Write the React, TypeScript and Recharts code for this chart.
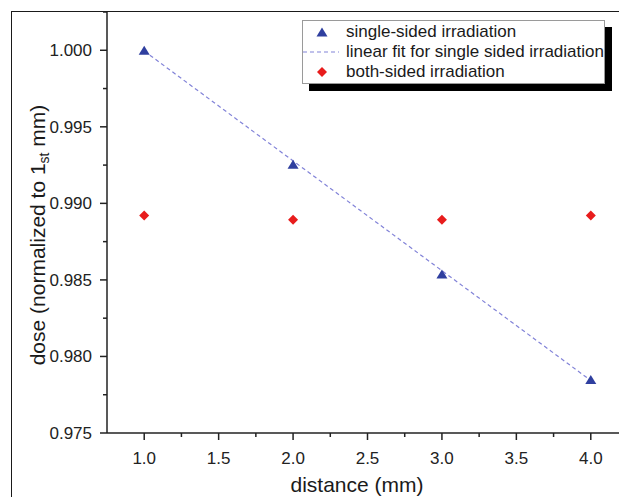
import { Label, Legend, Scatter, ScatterChart, XAxis, YAxis } from "recharts";

// distance in mm, dose normalized to the first mm
const distances = [1, 2, 3, 4];
const singleSided = [1.0, 0.99256, 0.98538, 0.97849];
const bothSided = [0.9892, 0.98893, 0.98893, 0.9892];

// end points of the linear fit for the single-sided run
const fitDistances = [1, 4];
const fitDose = [0.99995, 0.97843];

const xMajorTicks = [1, 1.5, 2, 2.5, 3, 3.5, 4];
const xMinorTicks = [1.25, 1.75, 2.25, 2.75, 3.25, 3.75];
const yMajorTicks = [0.975, 0.98, 0.985, 0.99, 0.995, 1.0];
const yMinorTicks = [0.9775, 0.9825, 0.9875, 0.9925, 0.9975, 1.0025];

const SERIES_NAMES = [
  "single-sided irradiation",
  "linear fit for single sided irradiation",
  "both-sided irradiation",
];

const FONT = '"Liberation Sans", Arial, sans-serif';
const AXIS = "#222";
const BLUE = "#2f3f9f";
const RED = "#e81c1c";
const FIT = "#8283d8";

const singleData = distances.map((x, i) => ({ x, y: singleSided[i] }));
const bothData = distances.map((x, i) => ({ x, y: bothSided[i] }));
const fitData = fitDistances.map((x, i) => ({ x, y: fitDose[i] }));

const isMajor = (v: number, list: number[]) => list.some((t) => Math.abs(t - v) < 1e-9);

const Triangle = ({ cx, cy, fill }: any) => (
  <polygon points={`${cx},${cy - 4.5} ${cx + 5.5},${cy + 4.5} ${cx - 5.5},${cy + 4.5}`} fill={fill} />
);

const Diamond = ({ cx, cy, fill }: any) => (
  <polygon points={`${cx},${cy - 5} ${cx + 5},${cy} ${cx},${cy + 5} ${cx - 5},${cy}`} fill={fill} />
);

const XTick = ({ x, y, payload }: any) => {
  const major = isMajor(payload.value, xMajorTicks);
  return (
    <g>
      <line x1={x} x2={x} y1={y} y2={y + (major ? 7 : 4)} stroke={AXIS} strokeWidth={1.5} />
      {major && (
        <text x={x} y={y + 31} textAnchor="middle" fontSize={17} fontFamily={FONT} fill="#222">
          {payload.value.toFixed(1)}
        </text>
      )}
    </g>
  );
};

const YTick = ({ x, y, payload }: any) => {
  const major = isMajor(payload.value, yMajorTicks);
  return (
    <g>
      <line x1={x - (major ? 7 : 4)} x2={x} y1={y} y2={y} stroke={AXIS} strokeWidth={1.5} />
      {major && (
        <text x={x - 15} y={y + 6} textAnchor="end" fontSize={17} fontFamily={FONT} fill="#222">
          {payload.value.toFixed(3)}
        </text>
      )}
    </g>
  );
};

const LegendBox = () => (
  <div
    style={{
      width: 301,
      height: 61,
      paddingTop: 1,
      boxSizing: "content-box",
      border: "1px solid #9a9a9a",
      background: "#fff",
      boxShadow: "7px 7px 0 #000",
      fontFamily: FONT,
      fontSize: 17,
      color: "#1a1a1a",
    }}
  >
    {SERIES_NAMES.map((name, i) => (
      <div key={name} style={{ display: "flex", alignItems: "center", height: 20, whiteSpace: "nowrap" }}>
        <svg width={43} height={20} style={{ flex: "none" }}>
          {i === 0 && <Triangle cx={19} cy={10} fill={BLUE} />}
          {i === 1 && <line x1={0} x2={36} y1={10} y2={10} stroke={FIT} strokeWidth={1.2} strokeDasharray="4 3" />}
          {i === 2 && <Diamond cx={19} cy={10} fill={RED} />}
        </svg>
        <span>{name}</span>
      </div>
    ))}
  </div>
);

export default function App() {
  return (
    <div style={{ position: "absolute", left: 0, top: 0, width: 619, height: 497, overflow: "hidden", background: "#fff" }}>
      <div
        style={{
          position: "absolute",
          left: 11,
          top: 11,
          width: 800,
          height: 800,
          borderLeft: "1.5px solid #1a1a1a",
          borderTop: "1.5px solid #1a1a1a",
        }}
      />
      <ScatterChart width={660} height={497} margin={{ top: 12, right: 32, bottom: 0, left: 0 }}>
        <XAxis
          type="number"
          dataKey="x"
          domain={[0.75, 4.25]}
          ticks={[...xMajorTicks, ...xMinorTicks].sort((a, b) => a - b)}
          interval={0}
          allowDataOverflow
          height={64}
          tickSize={0}
          tickMargin={0}
          tickLine={false}
          tick={XTick}
          axisLine={{ stroke: AXIS, strokeWidth: 1.5 }}
        >
          <Label
            content={() => (
              <text x={357} y={492} textAnchor="middle" fontSize={21} fontFamily={FONT} fill="#1a1a1a">
                distance (mm)
              </text>
            )}
          />
        </XAxis>
        <YAxis
          type="number"
          dataKey="y"
          domain={[0.975, 1.0025]}
          ticks={[...yMajorTicks, ...yMinorTicks].sort((a, b) => a - b)}
          interval={0}
          allowDataOverflow
          width={107}
          tickSize={0}
          tickMargin={0}
          tickLine={false}
          tick={YTick}
          axisLine={{ stroke: AXIS, strokeWidth: 1.5 }}
        >
          <Label
            content={() => (
              <text
                x={45}
                y={235}
                transform="rotate(-90 45 235)"
                textAnchor="middle"
                fontSize={21}
                fontFamily={FONT}
                fill="#1a1a1a"
              >
                dose (normalized to 1
                <tspan fontSize={14} dy={4}>st</tspan>
                <tspan dy={-4}> mm)</tspan>
              </text>
            )}
          />
        </YAxis>
        <Legend
          layout="vertical"
          align="center"
          verticalAlign="middle"
          wrapperStyle={{ left: 302, top: 20, width: "auto", height: "auto" }}
          content={() => <LegendBox />}
        />
        <Scatter
          name={SERIES_NAMES[1]}
          data={fitData}
          isAnimationActive={false}
          line={{ stroke: FIT, strokeWidth: 1.2, strokeDasharray: "4 3" }}
          shape={() => <g />}
        />
        <Scatter name={SERIES_NAMES[0]} data={singleData} fill={BLUE} isAnimationActive={false} shape={Triangle} />
        <Scatter name={SERIES_NAMES[2]} data={bothData} fill={RED} isAnimationActive={false} shape={Diamond} />
      </ScatterChart>
    </div>
  );
}
